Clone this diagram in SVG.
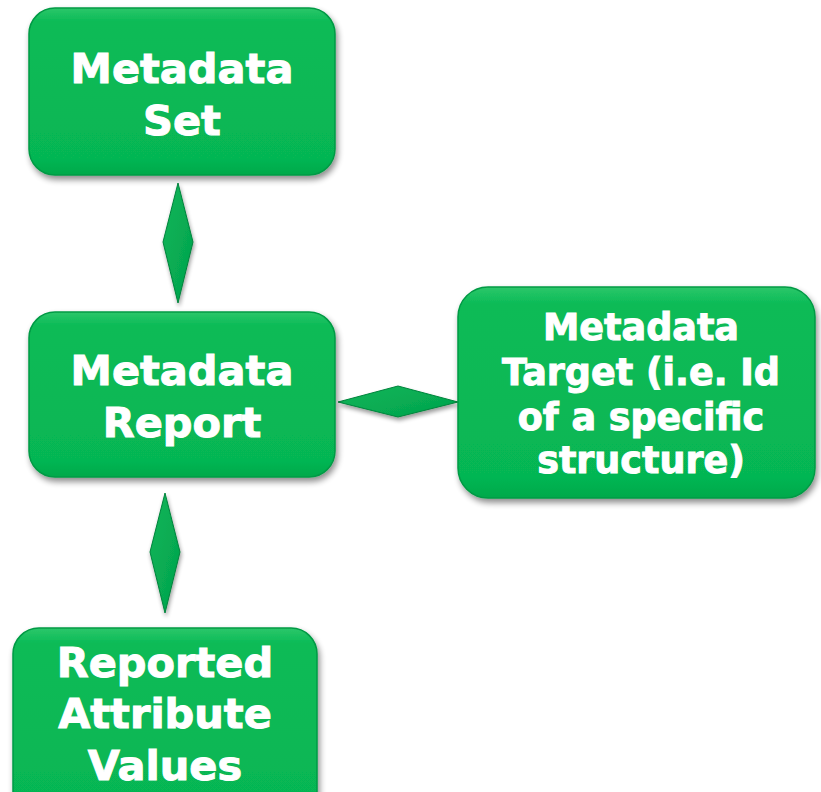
<svg xmlns="http://www.w3.org/2000/svg" width="821" height="792" viewBox="0 0 821 792">
  <defs>
    <linearGradient id="boxFill" x1="0" y1="0" x2="0" y2="1">
      <stop offset="0" stop-color="#2cc76a"/>
      <stop offset="0.08" stop-color="#0bbb57"/>
      <stop offset="0.9" stop-color="#06b653"/>
      <stop offset="1" stop-color="#03a94b"/>
    </linearGradient>
    <linearGradient id="gemFill" x1="0" y1="0" x2="1" y2="1">
      <stop offset="0" stop-color="#0cb659"/>
      <stop offset="1" stop-color="#03a24c"/>
    </linearGradient>
    <filter id="shadow" x="-10%" y="-10%" width="125%" height="130%">
      <feGaussianBlur in="SourceAlpha" stdDeviation="3"/>
      <feOffset dx="2" dy="4" result="b"/>
      <feComponentTransfer><feFuncA type="linear" slope="0.45"/></feComponentTransfer>
      <feMerge><feMergeNode/><feMergeNode in="SourceGraphic"/></feMerge>
    </filter>
    <filter id="gemShadow" x="-30%" y="-30%" width="160%" height="160%">
      <feGaussianBlur in="SourceAlpha" stdDeviation="2"/>
      <feOffset dx="1" dy="3" result="b"/>
      <feComponentTransfer><feFuncA type="linear" slope="0.4"/></feComponentTransfer>
      <feMerge><feMergeNode/><feMergeNode in="SourceGraphic"/></feMerge>
    </filter>
  </defs>
  <style>
    .box { fill: url(#boxFill); stroke: #049a45; stroke-width: 1.5; filter: url(#shadow); }
    .gem { fill: url(#gemFill); stroke: #03843c; stroke-width: 1; filter: url(#gemShadow); }
    .lbl { font-family: "DejaVu Sans", Verdana, sans-serif; font-weight: bold; fill: #ffffff; stroke: #ffffff; stroke-width: 1; text-anchor: middle; }
    .big { font-size: 41.5px; }
    .mid { font-size: 36.5px; }
  </style>
  <rect width="821" height="792" fill="#ffffff"/>

  <g id="connectors">
    <polygon class="gem" points="178,183 193,242 178,303 163,242"/>
    <polygon class="gem" points="165,493 180,552 165,613 150,552"/>
    <polygon class="gem" points="338,402 398,386 458,402 398,417"/>
  </g>

  <g id="metadata-set">
    <rect class="box" x="29" y="8" width="306" height="167" rx="26"/>
    <text class="lbl big" x="182" y="83">Metadata</text>
    <text class="lbl big" x="182" y="135">Set</text>
  </g>

  <g id="metadata-report">
    <rect class="box" x="29" y="312" width="306" height="165" rx="26"/>
    <text class="lbl big" x="182" y="385">Metadata</text>
    <text class="lbl big" x="182" y="437">Report</text>
  </g>

  <g id="metadata-target">
    <rect class="box" x="458" y="287" width="357" height="211" rx="30"/>
    <text class="lbl mid" x="641" y="340">Metadata</text>
    <text class="lbl mid" x="641" y="385">Target (i.e. Id</text>
    <text class="lbl mid" x="641" y="430">of a specific</text>
    <text class="lbl mid" x="641" y="473">structure)</text>
  </g>

  <g id="reported-attribute-values">
    <rect class="box" x="13" y="628" width="304" height="190" rx="26"/>
    <text class="lbl big" x="165" y="677">Reported</text>
    <text class="lbl big" x="165" y="728">Attribute</text>
    <text class="lbl big" x="165" y="780">Values</text>
  </g>
</svg>
